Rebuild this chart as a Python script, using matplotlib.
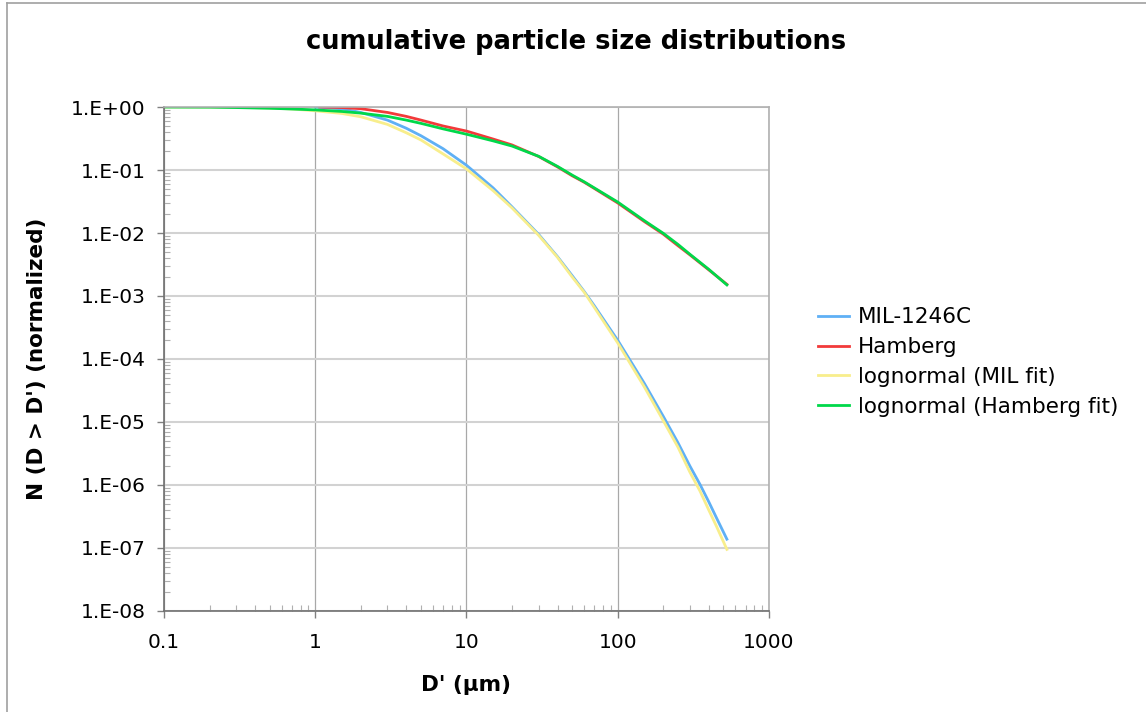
import matplotlib
matplotlib.use('Agg')
import matplotlib.pyplot as plt
from matplotlib.lines import Line2D
from matplotlib.ticker import FixedLocator, FixedFormatter, LogLocator, NullFormatter

plt.rcParams['font.family'] = ['DejaVu Sans']

# MIL-1246C
mil_d = [1, 1.5, 2, 3, 4, 5, 7, 10, 15, 20, 30, 40, 50, 60, 70, 100, 150, 200, 250,
         300, 350, 400, 450, 527]
mil_n = [1.0, 0.936, 0.82, 0.62, 0.46, 0.35, 0.218, 0.119, 0.052, 0.026, 9.5e-3,
         4.2e-3, 2.1e-3, 1.18e-3, 7.0e-4, 1.98e-4, 4.1e-5, 1.23e-5, 4.7e-6, 2.0e-6,
         1.02e-6, 5.4e-7, 3.0e-7, 1.38e-7]

# Hamberg
ham_d = [1.07, 1.5, 2, 3, 4, 5, 7, 10, 15, 20, 30, 40, 50, 60, 70, 100, 150, 200,
         250, 300, 400, 527]
ham_n = [1.0, 0.98, 0.94, 0.82, 0.71, 0.62, 0.5, 0.415, 0.31, 0.25, 0.164, 0.112,
         0.081, 0.064, 0.051, 0.030, 0.0152, 0.0096, 0.0063, 0.0045, 0.0026, 0.00153]

# lognormal (MIL fit)
lnm_d = [0.1, 0.2, 0.3, 0.5, 0.7, 1, 1.5, 2, 3, 4, 5, 7, 10, 15, 20, 30, 40, 50, 60,
         70, 100, 150, 200, 250, 300, 350, 400, 450, 527]
lnm_n = [1.0, 0.998, 0.99, 0.965, 0.93, 0.87, 0.79, 0.70, 0.53, 0.39, 0.30, 0.18,
         0.104, 0.047, 0.025, 9.2e-3, 4.1e-3, 2.0e-3, 1.15e-3, 6.6e-4, 1.8e-4,
         3.6e-5, 1.05e-5, 4.0e-6, 1.6e-6, 8.0e-7, 4.0e-7, 2.2e-7, 9.5e-8]

# lognormal (Hamberg fit)
lnh_d = [0.1, 0.2, 0.3, 0.5, 0.7, 1, 1.5, 2, 3, 4, 5, 7, 10, 15, 20, 30, 40, 50, 60,
         70, 100, 150, 200, 250, 300, 400, 527]
lnh_n = [1.0, 0.995, 0.98, 0.955, 0.93, 0.9, 0.85, 0.80, 0.71, 0.62, 0.55, 0.45,
         0.37, 0.29, 0.24, 0.165, 0.114, 0.083, 0.065, 0.052, 0.031, 0.0157, 0.0099,
         0.0066, 0.0046, 0.00265, 0.0015]

x_ticks = [0.1, 1, 10, 100, 1000]
x_labels = ['0.1', '1', '10', '100', '1000']
y_ticks = [1e-8, 1e-7, 1e-6, 1e-5, 1e-4, 1e-3, 1e-2, 1e-1, 1]
y_labels = ['1.E-08', '1.E-07', '1.E-06', '1.E-05', '1.E-04', '1.E-03', '1.E-02',
            '1.E-01', '1.E+00']

fig = plt.figure(figsize=(11.46, 7.12), dpi=100)
ax = fig.add_axes([0.1431, 0.1419, 0.5279, 0.7078])

ax.plot(mil_d, mil_n, color='#5fb0f5', lw=2, label='MIL-1246C')
ax.plot(ham_d, ham_n, color='#f23a3a', lw=2, label='Hamberg')
ax.plot(lnm_d, lnm_n, color='#f8ee8c', lw=2, label='lognormal (MIL fit)')
ax.plot(lnh_d, lnh_n, color='#00d84a', lw=2, label='lognormal (Hamberg fit)')

ax.set_xscale('log')
ax.set_yscale('log')
ax.set_xlim(0.1, 1000)
ax.set_ylim(1e-8, 1)

ax.xaxis.set_major_locator(FixedLocator(x_ticks))
ax.xaxis.set_major_formatter(FixedFormatter(x_labels))
ax.yaxis.set_major_locator(FixedLocator(y_ticks))
ax.yaxis.set_major_formatter(FixedFormatter(y_labels))
ax.xaxis.set_minor_locator(LogLocator(base=10, subs=range(2, 10), numticks=20))
ax.yaxis.set_minor_locator(LogLocator(base=10, subs=range(2, 10), numticks=20))
ax.xaxis.set_minor_formatter(NullFormatter())
ax.yaxis.set_minor_formatter(NullFormatter())

ax.tick_params(which='major', direction='out', length=5, color='#808080',
               labelsize=14.5, width=1)
ax.tick_params(axis='x', which='major', pad=11)
ax.tick_params(axis='y', which='major', pad=8)
ax.tick_params(which='minor', direction='in', length=4, color='#b0b0b0', width=0.8)

ax.xaxis.grid(True, which='major', color='#a8a8a8', lw=0.9)
ax.yaxis.grid(True, which='major', color='#d2d2d2', lw=1.5)
ax.set_axisbelow(True)

for s in ['left', 'bottom']:
    ax.spines[s].set_color('#707070')
    ax.spines[s].set_linewidth(1.2)
for s in ['top', 'right']:
    ax.spines[s].set_color('#b0b0b0')
    ax.spines[s].set_linewidth(1.2)

fig.text(0.5026, 0.941, 'cumulative particle size distributions', ha='center',
         va='center', fontsize=18.5, fontweight='bold')
fig.text(0.4066, 0.038, "D' (µm)", ha='center', va='center', fontsize=15.5,
         fontweight='bold')
fig.text(0.032, 0.496, "N (D > D') (normalized)", ha='center', va='center',
         fontsize=15.5, fontweight='bold', rotation=90)

ax.legend(loc='center left', bbox_to_anchor=(0.7138, 0.4916),
          bbox_transform=fig.transFigure, frameon=False, fontsize=15.5,
          handlelength=1.45, handletextpad=0.4, labelspacing=0.45,
          borderpad=0, borderaxespad=0)

# outer chart border
fig.add_artist(Line2D([0.0065, 0.0065], [0, 0.996], transform=fig.transFigure,
                      color='#a0a0a0', lw=1.2))
fig.add_artist(Line2D([0.0065, 1], [0.996, 0.996], transform=fig.transFigure,
                      color='#a0a0a0', lw=1.2))

fig.savefig('out.png', dpi=100)
